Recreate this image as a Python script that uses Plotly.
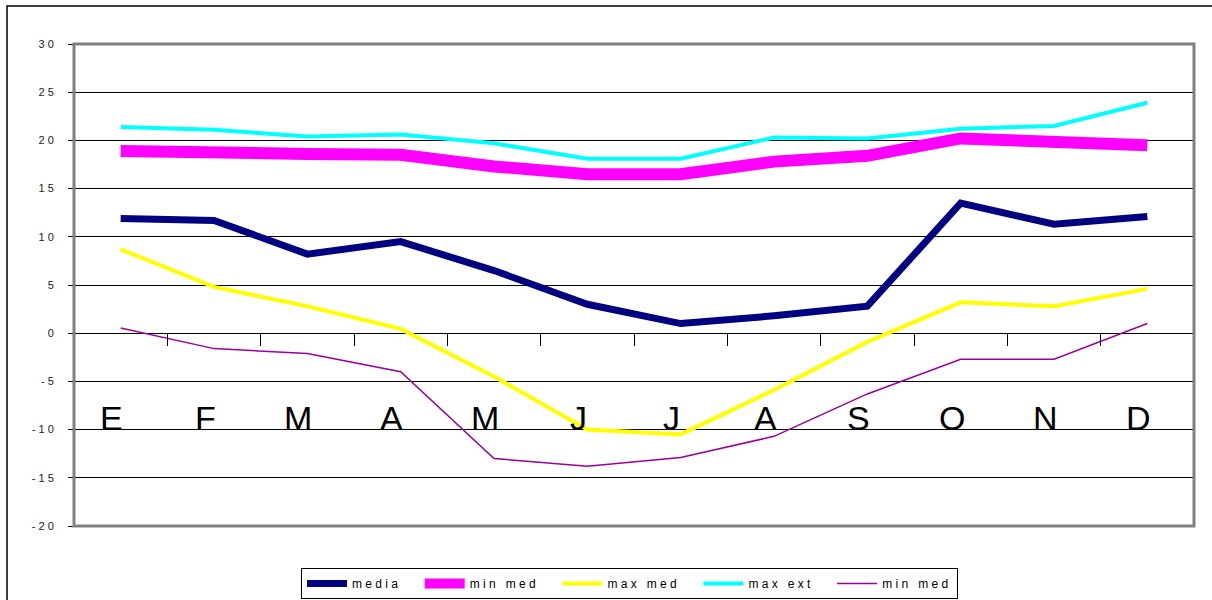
import plotly.graph_objects as go

months = ["E", "F", "M", "A", "M", "J", "J", "A", "S", "O", "N", "D"]
media = [11.9, 11.7, 8.2, 9.5, 6.5, 3.0, 1.0, 1.8, 2.8, 13.5, 11.3, 12.1]
min_med_a = [18.9, 18.6, 18.6, 18.5, 17.3, 16.5, 16.5, 17.8, 18.4, 20.2, 19.7, 19.5]
max_med = [8.7, 4.8, 2.8, 0.45, -4.5, -10.0, -10.5, -5.9, -0.9, 3.2, 2.8, 4.6]
max_ext = [21.4, 21.1, 20.4, 20.6, 19.7, 18.1, 18.1, 20.3, 20.2, 21.2, 21.5, 23.9]
min_med_b = [0.55, -1.6, -2.1, -4.0, -13.0, -13.8, -12.9, -10.7, -6.3, -2.7, -2.7, 1.0]

series_names = ["media", "min med", "max med", "max ext", "min med"]
series_colors = ["#000080", "#FF00FF", "#FFFF00", "#00FFFF", "#990099"]
series_widths = [7, 12, 4, 4, 1.5]
series_values = [media, min_med_a, max_med, max_ext, min_med_b]

y_ticks = [30, 25, 20, 15, 10, 5, 0, -5, -10, -15, -20]

NB = "\u00a0"


def spaced(s):
    return NB.join(ch if ch != " " else NB for ch in s)


y_ticktext = [spaced(str(v)) for v in y_ticks]

xs = list(range(len(months)))

fig = go.Figure()
n_series = len(series_names)
for k, (name, color, width, vals) in enumerate(zip(series_names, series_colors, series_widths, series_values)):
    pad = NB * (5 if k < n_series - 1 else 1)
    fig.add_trace(go.Scatter(
        x=xs, y=vals, mode="lines", name=spaced(name) + pad,
        line=dict(color=color, width=width),
    ))

# invisible trace on secondary x axis to show category-boundary ticks at y=0
fig.add_trace(go.Scatter(x=xs, y=[None] * len(xs), xaxis="x2", showlegend=False,
                         hoverinfo="skip", mode="lines"))

for i, m in enumerate(months):
    fig.add_annotation(x=i, y=-10, text=m, showarrow=False, xref="x", yref="y",
                       yanchor="bottom", xshift=-9, yshift=-9,
                       font=dict(family="Liberation Sans Narrow, Arial Narrow, Liberation Sans, Arial, sans-serif",
                                 size=34, color="black"))

ymin, ymax = -20, 30
zero_pos = (0 - ymin) / (ymax - ymin)

fig.update_layout(
    width=1212, height=600,
    margin=dict(l=74, r=18, t=44, b=74, autoexpand=False),
    paper_bgcolor="white", plot_bgcolor="white",
    font=dict(family="Liberation Sans, Arial, sans-serif", size=11, color="black"),
    xaxis=dict(range=[-0.5, len(months) - 0.5], showgrid=False, zeroline=False,
               showticklabels=False, ticks="", showline=False, fixedrange=True,
               automargin=False),
    xaxis2=dict(range=[-0.5, len(months) - 0.5], overlaying="x", anchor="free",
                position=zero_pos, showgrid=False, zeroline=False, showticklabels=False,
                tickmode="array", tickvals=[i + 0.5 for i in xs[:-1]],
                ticks="outside", ticklen=12, tickcolor="black", tickwidth=1,
                showline=False, automargin=False),
    yaxis=dict(range=[ymin, ymax], tickmode="array", tickvals=y_ticks, ticktext=y_ticktext,
               showgrid=True, gridcolor="black", gridwidth=1, zeroline=False,
               ticks="outside", ticklen=5, tickcolor="black", ticklabelstandoff=12,
               tickfont=dict(size=11, color="#222222"), showline=True, linecolor="black",
               linewidth=1, automargin=False),
    legend=dict(orientation="h", x=0.496, xanchor="center", y=-0.087, yanchor="top",
                bordercolor="black", borderwidth=1, bgcolor="white",
                font=dict(size=12, color="black"), itemwidth=40, tracegroupgap=0),
    showlegend=True,
)

# plot area frame (gray) and outer chart frame
fig.add_shape(type="rect", xref="paper", yref="paper", x0=0, x1=1, y0=0, y1=1,
              line=dict(color="#808080", width=3), layer="above")
fig.add_shape(type="rect", xref="paper", yref="paper", x0=-0.0598, x1=1.03, y0=-0.2, y1=1.0788,
              line=dict(color="black", width=1.5), layer="below")

fig.write_html("out.html", config={"displayModeBar": False},
               post_script="document.body.style.margin='0';")
